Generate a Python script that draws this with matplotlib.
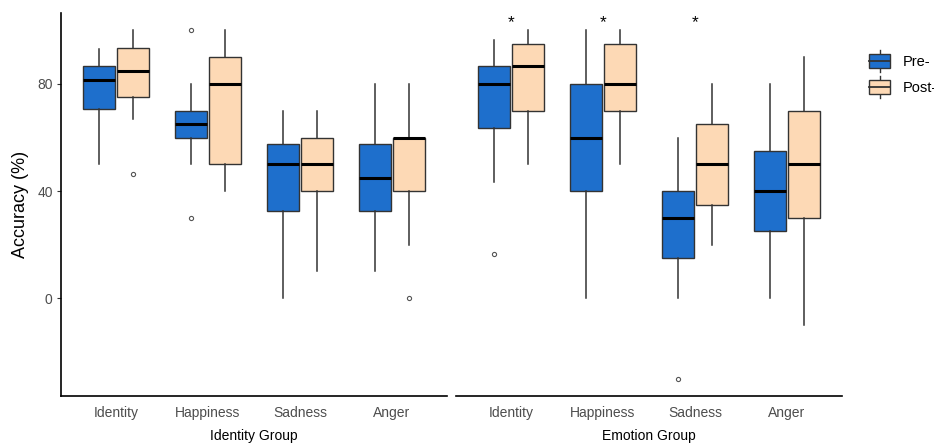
import matplotlib
matplotlib.use("Agg")
import matplotlib.pyplot as plt
from matplotlib.patches import Rectangle
from matplotlib.lines import Line2D
from matplotlib.legend_handler import HandlerBase

plt.rcParams['font.family'] = ['Liberation Sans', 'DejaVu Sans']

categories = ["Identity", "Happiness", "Sadness", "Anger"]
groups = ["Identity Group", "Emotion Group"]
conditions = ["Pre-", "Post-"]
colors = {"Pre-": "#1E6FCC", "Post-": "#FDD9B5"}

# [whisker low, q1, median, q3, whisker high] per category
identity_pre = [[50, 70.8, 81.6, 86.7, 93.1], [50, 60, 65, 70, 80], [0, 32.5, 50, 57.6, 70], [10, 32.5, 45, 57.6, 80]]
identity_post = [[66.8, 75, 85, 93.3, 100], [40, 50, 80, 90, 100], [10, 40, 50, 60, 70], [20, 40, 60, 60, 80]]
identity_pre_out = [[], [100, 30], [], []]
identity_post_out = [[46.5], [], [], [0]]

emotion_pre = [[43.5, 63.5, 80, 86.7, 96.4], [0, 40, 60, 80, 100], [0, 15, 30, 40, 60], [0, 25, 40, 55, 80]]
emotion_post = [[50, 70, 86.7, 95, 100], [50, 70, 80, 95, 100], [20, 35, 50, 65, 80], [-10, 30, 50, 70, 90]]
emotion_pre_out = [[16.7], [], [-30], []]
emotion_post_out = [[], [], [], []]

significant = [[False, False, False, False], [True, True, True, False]]
star_y = 102.8

yticks = [0, 40, 80]

data = {
    "Identity Group": {"Pre-": (identity_pre, identity_pre_out), "Post-": (identity_post, identity_post_out)},
    "Emotion Group": {"Pre-": (emotion_pre, emotion_pre_out), "Post-": (emotion_post, emotion_post_out)},
}

W, H = 934, 443
fig = plt.figure(figsize=(W / 100, H / 100), dpi=100)

axes_px = [(61, 447), (456, 842)]
top_px, bot_px = 13, 396
offset = 0.185
bw = 0.35
edge = "#333333"

for gi, g in enumerate(groups):
    x0, x1 = axes_px[gi]
    ax = fig.add_axes([x0 / W, 1 - bot_px / H, (x1 - x0) / W, (bot_px - top_px) / H])
    for ci, cond in enumerate(conditions):
        vals, outs = data[g][cond]
        stats = []
        for v, o in zip(vals, outs):
            stats.append(dict(whislo=v[0], q1=v[1], med=v[2], q3=v[3], whishi=v[4], fliers=o))
        pos = [i + (-offset if ci == 0 else offset) for i in range(len(categories))]
        ax.bxp(stats, positions=pos, widths=bw, patch_artist=True, showcaps=False,
               boxprops=dict(facecolor=colors[cond], edgecolor=edge, linewidth=1.0),
               whiskerprops=dict(color=edge, linewidth=1.1),
               medianprops=dict(color="black", linewidth=2.2, solid_capstyle="butt"),
               flierprops=dict(marker="o", markersize=3, markerfacecolor="none",
                               markeredgecolor="#555555", markeredgewidth=0.8),
               manage_ticks=False)
    for i, s in enumerate(significant[gi]):
        if s:
            ax.text(i, star_y, "*", ha="center", va="center", fontsize=12.5, color="black")
    ax.set_xlim(-0.6, len(categories) - 0.4)
    ax.set_ylim(-36.5, 106.5)
    ax.set_xticks(range(len(categories)))
    ax.set_xticklabels(categories, fontsize=10, color="#4D4D4D")
    ax.tick_params(axis="x", length=0, pad=7)
    ax.set_xlabel(g, fontsize=10, labelpad=7, color="black")
    for sp in ["top", "right"]:
        ax.spines[sp].set_visible(False)
    ax.spines["bottom"].set_linewidth(1.2)
    ax.spines["bottom"].set_color("black")
    if gi == 0:
        ax.set_yticks(yticks)
        ax.set_yticklabels([str(t) for t in yticks], fontsize=10, color="#4D4D4D")
        ax.tick_params(axis="y", length=3, width=0.8, color="#333333", pad=3)
        ax.spines["left"].set_linewidth(1.2)
        ax.spines["left"].set_color("black")
        ax.set_ylabel("Accuracy (%)", fontsize=13, labelpad=6, color="black")
    else:
        ax.spines["left"].set_visible(False)
        ax.set_yticks([])


class BoxHandler(HandlerBase):
    def create_artists(self, legend, orig_handle, xdescent, ydescent, width, height, fontsize, trans):
        fc = orig_handle.get_facecolor()
        r = Rectangle((-xdescent, -ydescent), width, height, facecolor=fc, edgecolor=edge, lw=1.0, transform=trans)
        cx = -xdescent + width / 2
        m = Line2D([-xdescent, -xdescent + width], [-ydescent + height / 2] * 2, color=edge, lw=1.3, transform=trans)
        w1 = Line2D([cx, cx], [-ydescent + height, -ydescent + height + 3], color=edge, lw=1.0, transform=trans)
        w2 = Line2D([cx, cx], [-ydescent, -ydescent - 3], color=edge, lw=1.0, transform=trans)
        return [w1, w2, r, m]


handles = [Rectangle((0, 0), 1, 1, facecolor=colors[c]) for c in conditions]
fig.legend(handles, conditions, handler_map={Rectangle: BoxHandler()}, loc="upper left",
           bbox_to_anchor=(869 / W, 1 - 54 / H), frameon=False, borderpad=0, borderaxespad=0,
           fontsize=10.5, handlelength=1.45, handleheight=1.1, handletextpad=0.85, labelspacing=0.75)

fig.savefig("out.png", dpi=100)
